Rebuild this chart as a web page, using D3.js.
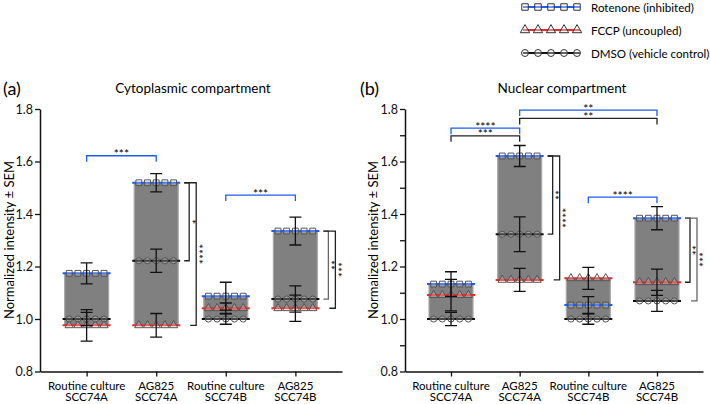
<!DOCTYPE html>
<html>
<head>
<meta charset="utf-8">
<script src="https://cdn.jsdelivr.net/npm/d3@7"></script>
<style>
body { margin: 0; background: #fff; }
svg { font-family: Lato, "Open Sans", sans-serif; }
</style>
</head>
<body>
<div id="chart"></div>
<script>
// Data
const categories = ["Routine culture|SCC74A", "AG825|SCC74A", "Routine culture|SCC74B", "AG825|SCC74B"];
const seriesNames = ["Rotenone (inhibited)", "FCCP (uncoupled)", "DMSO (vehicle control)"];

// (a) cytoplasmic compartment
const cytoRotenone = [1.174, 1.519, 1.087, 1.335];
const cytoRotenoneSem = [0.04, 0.035, 0.053, 0.053];
const cytoFccp = [0.976, 0.976, 1.041, 1.041];
const cytoFccpSem = [0.06, 0.045, 0.02, 0.05];
const cytoDmso = [1.0, 1.222, 1.0, 1.076];
const cytoDmsoSem = [0.025, 0.044, 0.02, 0.05];

// (b) nuclear compartment
const nucRotenone = [1.133, 1.621, 1.053, 1.384];
const nucRotenoneSem = [0.047, 0.04, 0.032, 0.044];
const nucFccp = [1.091, 1.149, 1.155, 1.14];
const nucFccpSem = [0.06, 0.044, 0.042, 0.05];
const nucDmso = [1.0, 1.323, 1.0, 1.069];
const nucDmsoSem = [0.025, 0.066, 0.02, 0.04];

const yTicksMajor = [0.8, 1.0, 1.2, 1.4, 1.6, 1.8];
const yTicksMinor = [0.8, 0.9, 1.0, 1.1, 1.2, 1.3, 1.4, 1.5, 1.6, 1.7, 1.8];

// significance brackets: between categories (c1, c2) at level v
const cytoBrackets = [
    { c1: 0, c2: 1, v: 1.622, label: "***", blue: true },
    { c1: 2, c2: 3, v: 1.472, label: "***", blue: true },
];
const nucBrackets = [
    { c1: 0, c2: 1, v: 1.727, label: "****", blue: true },
    { c1: 0, c2: 1, v: 1.698, label: "***", blue: false },
    { c1: 1, c2: 3, v: 1.796, label: "**", blue: true },
    { c1: 1, c2: 3, v: 1.764, label: "**", blue: false },
    { c1: 2, c2: 3, v: 1.464, label: "****", blue: true },
];
// within a category, between series a and b (0 rotenone, 1 fccp, 2 dmso)
const cytoSideBrackets = [
    { cat: 1, a: 0, b: 2, outer: false, label: "*", grey: false },
    { cat: 1, a: 0, b: 1, outer: true, label: "****", grey: false },
    { cat: 3, a: 0, b: 2, outer: false, label: "**", grey: true },
    { cat: 3, a: 0, b: 1, outer: true, label: "***", grey: false },
];
const nucSideBrackets = [
    { cat: 1, a: 0, b: 2, outer: false, label: "**", grey: false },
    { cat: 1, a: 0, b: 1, outer: true, label: "****", grey: false },
    { cat: 3, a: 0, b: 1, outer: false, label: "**", grey: false },
    { cat: 3, a: 0, b: 2, outer: true, label: "***", grey: true },
];

const colors = ["#1f5cf0", "#ee2b2b", "#111111"];
const symbols = [d3.symbolSquare, d3.symbolTriangle, d3.symbolCircle];
const markerSize = [34, 30, 30];

const svg = d3.select("#chart")
    .append("svg")
    .attr("width", 710)
    .attr("height", 404);

function drawMarkers(g, cx, cy, s, step) {
    [-2, -1, 0, 1, 2].forEach(k => {
        g.append("path")
            .attr("d", d3.symbol().type(symbols[s]).size(markerSize[s])())
            .attr("transform", `translate(${cx + k * step},${cy})`)
            .attr("fill", "rgba(255,255,255,0.22)")
            .attr("stroke", "#555")
            .attr("stroke-width", 1);
    });
}

function drawPanel(p) {
    const y = d3.scaleLinear().domain([0.8, 1.8]).range([371.5, 109]);
    const x = d3.scalePoint().domain(categories).range([p.x0, p.x1]).padding(0.67);
    const g = svg.append("g");

    // Panel letter and title
    g.append("text").attr("x", p.letterX).attr("y", 95)
        .attr("font-size", 18).text(p.letter);
    g.append("text").attr("x", p.titleX).attr("y", 93)
        .attr("text-anchor", "middle").attr("font-size", 13.5).text(p.title);

    // Y label
    g.append("text")
        .attr("transform", `translate(${p.labelX},240) rotate(-90)`)
        .attr("text-anchor", "middle")
        .attr("dominant-baseline", "central")
        .attr("font-size", 13)
        .text("Normalized intensity ± SEM");

    // Floating bars spanning the three means
    categories.forEach((c, i) => {
        const vals = p.series.map(s => s.mean[i]);
        const lo = d3.min(vals), hi = d3.max(vals);
        g.append("rect")
            .attr("x", x(c) - 22)
            .attr("width", 44)
            .attr("y", y(hi))
            .attr("height", y(lo) - y(hi))
            .attr("fill", "#808080")
            .attr("stroke", "#a8a8a8")
            .attr("stroke-width", 1.2);
    });

    // Mean lines with markers
    p.series.forEach((s, si) => {
        categories.forEach((c, i) => {
            const cy = y(s.mean[i]);
            g.append("line")
                .attr("x1", x(c) - 24).attr("x2", x(c) + 24)
                .attr("y1", cy).attr("y2", cy)
                .attr("stroke", colors[si]).attr("stroke-width", 2);
            drawMarkers(g, x(c), cy, si, 8.7);
        });
    });

    // Error bars
    p.series.forEach(s => {
        categories.forEach((c, i) => {
            const top = y(s.mean[i] + s.sem[i]), bot = y(s.mean[i] - s.sem[i]);
            g.append("path")
                .attr("d", `M${x(c)},${top}V${bot}M${x(c) - 6},${top}H${x(c) + 6}M${x(c) - 6},${bot}H${x(c) + 6}`)
                .attr("fill", "none").attr("stroke", "#111").attr("stroke-width", 1.3);
        });
    });

    // Axes
    const yAxis = d3.axisLeft(y)
        .tickValues(p.yTicks)
        .tickSize(5)
        .tickSizeOuter(0)
        .tickPadding(2)
        .tickFormat(d => (Math.round(d * 10) % 2 === 0 ? d.toFixed(1) : ""));
    const ya = g.append("g").attr("transform", `translate(${p.x0},0)`).call(yAxis);
    ya.selectAll("text").attr("font-size", 12.5).attr("fill", "#111").style("font-family", "Lato");

    const xAxis = d3.axisBottom(x).tickSize(5).tickSizeOuter(0).tickFormat("");
    const xa = g.append("g").attr("transform", `translate(0,${y(0.8)})`).call(xAxis);
    [ya, xa].forEach(a => {
        a.select(".domain").attr("stroke", "#111").attr("stroke-width", 1.5);
        a.selectAll(".tick line").attr("stroke", "#111").attr("stroke-width", 1.3);
    });

    categories.forEach(c => {
        const lines = c.split("|");
        const t = g.append("text").attr("text-anchor", "middle").attr("font-size", 11.5);
        lines.forEach((l, k) => {
            t.append("tspan").attr("x", x(c)).attr("y", 389.5 + k * 11.5).text(l);
        });
    });

    // Brackets between categories
    p.brackets.forEach(b => {
        const yy = y(b.v);
        const col = b.blue ? colors[0] : "#222";
        g.append("path")
            .attr("d", `M${x(categories[b.c1])},${yy + 6}V${yy}H${x(categories[b.c2])}V${yy + 6}`)
            .attr("fill", "none").attr("stroke", col).attr("stroke-width", 1.3);
        g.append("text")
            .attr("x", (x(categories[b.c1]) + x(categories[b.c2])) / 2)
            .attr("y", yy + 2.5)
            .attr("text-anchor", "middle").attr("font-size", 12)
            .text(b.label);
    });

    // Brackets within a category
    p.side.forEach(b => {
        const c = x(categories[b.cat]);
        const ya0 = y(p.series[b.a].mean[b.cat]);
        const yb0 = y(p.series[b.b].mean[b.cat]);
        const vx = c + (b.outer ? 40 : 33);
        const botStart = b.outer ? c + 34 : c + 28;
        g.append("path")
            .attr("d", `M${c + 28},${ya0}H${vx}V${yb0}H${botStart}`)
            .attr("fill", "none").attr("stroke", b.grey ? "#666" : "#222").attr("stroke-width", 1.3);
        g.append("text")
            .attr("transform", `translate(${vx - 2.5},${(ya0 + yb0) / 2}) rotate(90)`)
            .attr("text-anchor", "middle").attr("font-size", 12)
            .text(b.label);
    });
}

drawPanel({
    x0: 40, x1: 342, letter: "(a)", letterX: 3, title: "Cytoplasmic compartment", titleX: 193, labelX: 9,
    yTicks: yTicksMajor,
    series: [
        { mean: cytoRotenone, sem: cytoRotenoneSem },
        { mean: cytoFccp, sem: cytoFccpSem },
        { mean: cytoDmso, sem: cytoDmsoSem },
    ],
    brackets: cytoBrackets, side: cytoSideBrackets,
});

drawPanel({
    x0: 405, x1: 703, letter: "(b)", letterX: 360, title: "Nuclear compartment", titleX: 562, labelX: 373,
    yTicks: yTicksMinor,
    series: [
        { mean: nucRotenone, sem: nucRotenoneSem },
        { mean: nucFccp, sem: nucFccpSem },
        { mean: nucDmso, sem: nucDmsoSem },
    ],
    brackets: nucBrackets, side: nucSideBrackets,
});

// Legend
const legend = svg.append("g");
seriesNames.forEach((name, si) => {
    const ly = 7 + si * 23;
    legend.append("line")
        .attr("x1", 523).attr("x2", 580).attr("y1", ly).attr("y2", ly)
        .attr("stroke", colors[si]).attr("stroke-width", 2.2);
    [0, 1, 2, 3, 4].forEach(k => {
        legend.append("path")
            .attr("d", d3.symbol().type(symbols[si]).size(markerSize[si] + 8)())
            .attr("transform", `translate(${525 + k * 13},${ly})`)
            .attr("fill", "rgba(255,255,255,0.35)")
            .attr("stroke", "#333").attr("stroke-width", 1);
    });
    legend.append("text")
        .attr("x", 591).attr("y", ly)
        .attr("dominant-baseline", "central")
        .attr("font-size", 11.6)
        .text(name);
});
</script>
</body>
</html>
